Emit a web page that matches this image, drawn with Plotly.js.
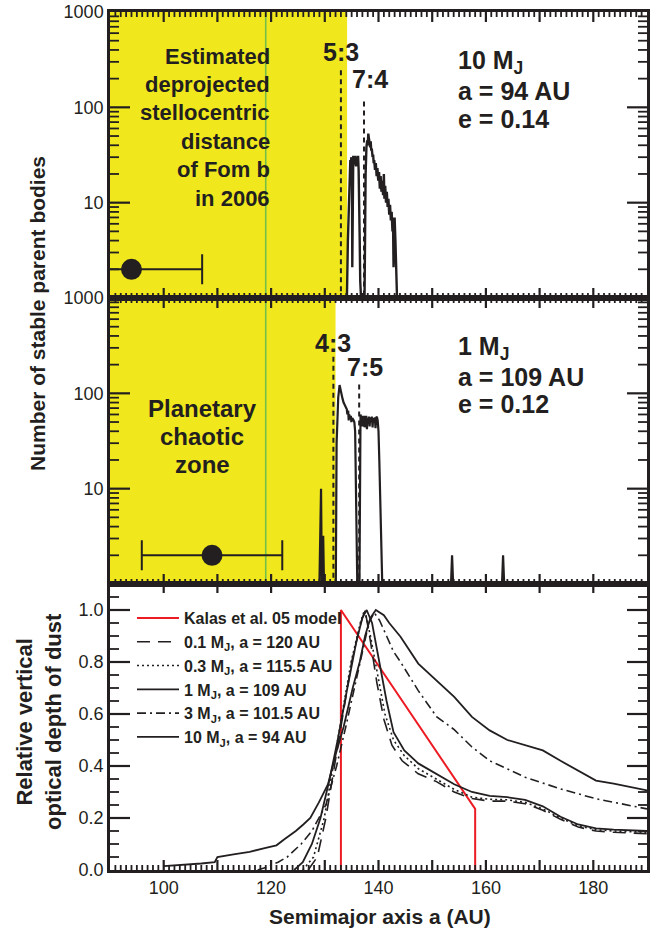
<!DOCTYPE html>
<html><head><meta charset="utf-8">
<script src="https://cdn.plot.ly/plotly-3.0.1.min.js"></script>
<style>html,body{margin:0;padding:0;background:#fff;} #chart{width:657px;height:932px;}</style>
</head><body><div id="chart"></div>
<script>
// ---------------- DATA ----------------
const topAU = [134.0,134.12,134.3,134.5,134.65,134.75,134.85,134.95,135.05,135.12,135.2,135.3,135.4,135.5,135.6,135.7,135.8,135.9,136.0,136.1,136.2,136.3,136.4,136.5,136.6,136.75,137.4,137.5,137.6,137.75,137.9,138.0,138.1,138.2,138.35,138.45,138.55,138.65,138.75,138.9,139.0,139.1,139.2,139.35,139.5,139.65,139.8,139.95,140.1,140.25,140.4,140.55,140.7,140.85,141.0,141.1,141.25,141.4,141.55,141.7,141.85,142.0,142.15,142.3,142.45,142.6,142.7,142.8,142.9,143.0,143.15,143.3,143.45];
const topN = [1,1,4,9,20,28,26,30,22,2.1,28,31,25,30,27,31,24,29,30,26,31,22,12,4,1.5,1,1,6,20,38,45,40,53,48,42,38,44,35,37,30,32,26,28,22,26,19,23,17,21,14,19,13,17,12,20,11,15,10,13,9,11,7.5,9.5,6.5,8,5,7,2.1,5.5,7,4,2,1];
const midAU = [129.0,129.3,129.45,129.7,129.85,132.05,132.2,132.5,132.75,132.9,133.1,133.3,133.5,133.7,133.9,134.1,134.2,134.35,134.45,134.55,134.7,134.85,134.95,135.1,135.3,135.5,135.65,135.8,135.95,136.05,136.45,136.55,136.65,136.8,136.9,137.0,137.1,137.2,137.3,137.4,137.5,137.6,137.7,137.85,137.95,138.1,138.2,138.35,138.45,138.6,138.75,138.9,139.0,139.15,139.3,139.45,139.55,139.7,139.85,140.0,140.15,140.3,140.45,140.6,140.7,153.5,153.7,153.9,163.0,163.2,163.4];
const midN = [1,10,1,3.2,1,1,30,90,122,110,95,88,80,76,70,68,60,66,52,60,55,58,50,55,53,50,40,8,1.5,1,1,40,60,55,58,45,57,52,58,44,56,50,58,42,55,48,57,45,56,50,57,44,55,50,56,43,55,57,52,40,20,9,8,2,1,1,2,1,1,2,1];

const resTopLabels = ['5:3','7:4'];
const resTopAU = [133.0, 137.3];
const resTopN = [245, 115];
const resMidLabels = ['4:3','7:5'];
const resMidAU = [131.6, 136.4];
const resMidN = [242, 124];

const planetTop = {a: 94, e: 0.14, n: 2};
const planetMid = {a: 109, e: 0.12, n: 2};

const zoneTop = [90, 134.15];
const zoneMid = [90, 132.0];
const fomB = 119.0;

const kalasAU = [133, 133, 158, 158];
const kalasT  = [0, 1.0, 0.235, 0];
const au01 = [126.9,128.6,130.2,131.8,133.4,135.0,136.7,137.5,138.5,139.7,141.0,142.5,144.4,147.4,150.8,154.1,157.4,160.7,164,167.3,170.6,173.9,177.2,180.5,183.8,190];
const t01  = [0,0.05,0.2,0.4,0.6,0.8,0.95,1.0,0.88,0.72,0.58,0.48,0.42,0.37,0.34,0.3,0.275,0.265,0.265,0.255,0.23,0.195,0.165,0.15,0.145,0.14];
const au03 = [125.9,127.9,129.9,131.6,133.2,134.9,136.6,137.4,138.5,139.8,141.2,142.8,144.8,147.4,150.8,154.1,157.4,160.7,164,167.3,170.6,173.9,177.2,180.5,183.8,190];
const t03  = [0,0.05,0.2,0.4,0.6,0.8,0.95,1.0,0.9,0.75,0.6,0.5,0.44,0.39,0.35,0.31,0.28,0.272,0.27,0.26,0.235,0.2,0.17,0.155,0.15,0.145];
const au1 = [124.3,125.9,127.6,129.2,130.9,132.4,134.2,135.9,137.0,137.8,138.8,140.2,141.5,142.8,144.8,147.4,150.8,154.1,157.4,160.7,164,167.3,170.6,173.9,177.2,180.5,183.8,190];
const t1  = [0,0.03,0.1,0.2,0.35,0.5,0.7,0.88,0.97,1.0,0.95,0.8,0.65,0.53,0.46,0.41,0.37,0.33,0.3,0.285,0.28,0.27,0.245,0.205,0.175,0.16,0.155,0.15];
const au3 = [117.5,119,121.3,123,125.6,127.6,130.2,132.2,133.9,135.5,137.2,138.2,139.2,140.2,141.5,142.8,144.1,147.4,150.8,154.1,157.4,160.7,167.3,173.9,180.5,185,190];
const t3  = [0,0.01,0.03,0.05,0.1,0.15,0.25,0.4,0.55,0.7,0.85,0.95,0.99,0.96,0.9,0.84,0.8,0.69,0.59,0.54,0.473,0.42,0.357,0.312,0.274,0.255,0.235];
const au10 = [100,104,107,109.5,110,113,116,119,121,122.6,124.6,126,127.3,128.9,130.6,132.1,133.5,135.2,136.5,137.5,138.5,139.5,140.3,141,142,144.1,147.4,150.8,154.1,157.4,160.7,164,167.3,170.6,173.9,177.2,180.5,183.8,187,190];
const t10  = [0.015,0.02,0.025,0.03,0.05,0.06,0.07,0.085,0.095,0.12,0.15,0.175,0.2,0.26,0.33,0.45,0.55,0.7,0.8,0.9,0.97,1.0,0.99,0.98,0.95,0.897,0.794,0.73,0.666,0.589,0.537,0.5,0.48,0.46,0.42,0.383,0.344,0.332,0.319,0.306];

const legendNames = ['Kalas et al. 05 model','0.1 M<sub>J</sub>, a = 120 AU','0.3 M<sub>J</sub>, a = 115.5 AU','1 M<sub>J</sub>, a = 109 AU','3 M<sub>J</sub>, a = 101.5 AU','10 M<sub>J</sub>, a = 94 AU'];

const xLabelVals = [100,120,140,160,180];
const xMajorTicks = [100,110,120,130,140,150,160,170,180];
const xMinorTicks = [];
for (let v = 91; v <= 189; v++) if (v % 10) xMinorTicks.push(v);
const nLabelVals = [10,100,1000];
const nMajorTicks = [10,100];
const nMinorTicks = [2,3,4,5,6,7,8,9,20,30,40,50,60,70,80,90,200,300,400,500,600,700,800,900];
const tLabelVals = [0,0.2,0.4,0.6,0.8,1.0];
const tMajorTicks = [0.2,0.4,0.6,0.8,1.0];
const tMinorTicks = [0.05,0.1,0.15,0.25,0.3,0.35,0.45,0.5,0.55,0.65,0.7,0.75,0.85,0.9,0.95,1.05];

// ---------------- LAYOUT HELPERS ----------------
const FONT = 'Liberation Sans, Arial, Helvetica, sans-serif';
const INK = '#231f20';
const W=657, H=932, L=110, R=10, T=12, B=62;
const PW = W-L-R, PH = H-T-B, PANEL_H = PH/3;
const X_RANGE = [90,190], LOG_RANGE = [0,3], T_RANGE = [0,1.1];
const px = x => (x-L)/PW;
const py = y => (H-B-y)/PH;
const xStep = (v, lenPx) => v + lenPx*(X_RANGE[1]-X_RANGE[0])/PW;
const logStep = (v, lenPx) => v * Math.pow(10, lenPx*(LOG_RANGE[1]-LOG_RANGE[0])/PANEL_H);
const linStep = (v, lenPx) => v + lenPx*(T_RANGE[1]-T_RANGE[0])/PANEL_H;

const traces = [];
function add(t){traces.push(t);}
add({x: topAU, y: topN, xaxis:'x3', yaxis:'y3', mode:'lines', line:{color:INK,width:2.4}, showlegend:false, hoverinfo:'skip'});
resTopAU.forEach((a,i)=>add({x:[a,a], y:[resTopN[i],1], xaxis:'x3', yaxis:'y3', mode:'lines', line:{color:INK,width:2,dash:'5px,4px'}, showlegend:false, hoverinfo:'skip'}));
add({x:[planetTop.a], y:[planetTop.n], xaxis:'x3', yaxis:'y3', mode:'markers', marker:{size:21,color:INK}, showlegend:false, hoverinfo:'skip',
  error_x:{type:'data', symmetric:false, array:[planetTop.a*planetTop.e], arrayminus:[planetTop.a*planetTop.e], color:INK, thickness:2, width:15}});
add({x: midAU, y: midN, xaxis:'x2', yaxis:'y2', mode:'lines', line:{color:INK,width:2.2}, showlegend:false, hoverinfo:'skip'});
resMidAU.forEach((a,i)=>add({x:[a,a], y:[resMidN[i],1], xaxis:'x2', yaxis:'y2', mode:'lines', line:{color:INK,width:2,dash:'5px,4px'}, showlegend:false, hoverinfo:'skip'}));
add({x:[planetMid.a], y:[planetMid.n], xaxis:'x2', yaxis:'y2', mode:'markers', marker:{size:21,color:INK}, showlegend:false, hoverinfo:'skip',
  error_x:{type:'data', symmetric:false, array:[planetMid.a*planetMid.e], arrayminus:[planetMid.a*planetMid.e], color:INK, thickness:2, width:15}});
add({x:kalasAU, y:kalasT, name:legendNames[0], mode:'lines', line:{color:'#ed1c24',width:2}});
add({x:au01, y:t01, name:legendNames[1], mode:'lines', line:{color:INK,width:1.6,dash:'13px,8px'}});
add({x:au03, y:t03, name:legendNames[2], mode:'lines', line:{color:INK,width:1.6,dash:'2px,3px'}});
add({x:au1, y:t1, name:legendNames[3], mode:'lines', line:{color:INK,width:1.8}});
add({x:au3, y:t3, name:legendNames[4], mode:'lines', line:{color:INK,width:1.6,dash:'9px,4px,2px,4px'}});
add({x:au10, y:t10, name:legendNames[5], mode:'lines', line:{color:INK,width:1.8}});

// ---- tick marks drawn as line segments through each panel's axes ----
function tickTrace(xa, ya, segs, w){
  const xs=[], ys=[];
  segs.forEach(s=>{xs.push(s[0],s[2],null); ys.push(s[1],s[3],null);});
  add({x:xs, y:ys, xaxis:xa, yaxis:ya, mode:'lines', connectgaps:false, line:{color:INK,width:w}, showlegend:false, hoverinfo:'skip', cliponaxis:false});
}
function panelTicks(xa, ya, yLo, yHi, yUp, yDown, yMajor, yMinor, onlyMajorTop){
  const minor=[], major=[];
  xMinorTicks.forEach(v=>{
    minor.push([v, yLo, v, yUp(yLo,5)]);
    if(!onlyMajorTop) minor.push([v, yHi, v, yDown(yHi,5)]);
  });
  xMajorTicks.forEach(v=>{
    major.push([v, yLo, v, yUp(yLo,10)]);
    major.push([v, yHi, v, yDown(yHi, onlyMajorTop?9:10)]);
  });
  yMinor.forEach(v=>{
    minor.push([X_RANGE[0], v, xStep(X_RANGE[0],9), v]);
    minor.push([X_RANGE[1], v, xStep(X_RANGE[1],-9), v]);
  });
  yMajor.forEach(v=>{
    major.push([X_RANGE[0], v, xStep(X_RANGE[0],20), v]);
    major.push([X_RANGE[1], v, xStep(X_RANGE[1],-20), v]);
  });
  tickTrace(xa, ya, minor, 1.8);
  tickTrace(xa, ya, major, 2.2);
}
const logUp = (v,p)=>logStep(v,p), logDown = (v,p)=>logStep(v,-p);
const linUp = (v,p)=>linStep(v,p), linDown = (v,p)=>linStep(v,-p);
panelTicks('x3','y3', Math.pow(10,LOG_RANGE[0]), Math.pow(10,LOG_RANGE[1]), logUp, logDown, nMajorTicks, nMinorTicks, false);
panelTicks('x2','y2', Math.pow(10,LOG_RANGE[0]), Math.pow(10,LOG_RANGE[1]), logUp, logDown, nMajorTicks, nMinorTicks, false);
panelTicks('x','y', T_RANGE[0], T_RANGE[1], linUp, linDown, tMajorTicks, tMinorTicks, true);

const tickFont = {family:FONT, size:18, color:INK};
function frameX(anchor, labels){
  return {range:X_RANGE.slice(), anchor:anchor, showline:true, linewidth:2.5, linecolor:INK, mirror:true, showgrid:false, zeroline:false,
    ticks:'', tickmode:'array', tickvals:xLabelVals.slice(), showticklabels:!!labels, tickfont:tickFont};
}
function frameYLog(domain, anchor){
  return {type:'log', range:LOG_RANGE.slice(), domain:domain, anchor:anchor, showline:true, linewidth:2.5, linecolor:INK, mirror:true, showgrid:false, zeroline:false,
    ticks:'', tickmode:'array', tickvals:nLabelVals.slice(), ticktext:nLabelVals.map(String), tickfont:tickFont};
}

const shapes = [
  {type:'rect', xref:'x3', yref:'y3 domain', x0:zoneTop[0], x1:zoneTop[1], y0:0, y1:1, fillcolor:'#f0e81c', line:{width:0}, layer:'below'},
  {type:'rect', xref:'x2', yref:'y2 domain', x0:zoneMid[0], x1:zoneMid[1], y0:0, y1:1, fillcolor:'#f0e81c', line:{width:0}, layer:'below'},
  {type:'line', xref:'x3', yref:'paper', x0:fomB, x1:fomB, y0:1/3, y1:1, line:{color:'#72bf4a', width:1.6}, layer:'below'}
];

const ann = [];
function txt(text, x, y, size, xanchor, opts){ann.push(Object.assign({text:text, xref:'paper', yref:'paper', x:px(x), y:py(y), xanchor:xanchor||'center', yanchor:'middle', showarrow:false,
  font:{family:FONT, size:size, color:INK, weight:'bold'}}, opts||{}));}
resTopLabels.forEach((s,i)=>txt(s, [341,370][i], [52,79][i], 25));
resMidLabels.forEach((s,i)=>txt(s, [333,365][i], [343,367][i], 25));
txt('10 M<sub>J</sub>', 456, 62, 25, 'left');
txt('a = 94 AU', 456, 91, 25, 'left');
txt('e = 0.14', 456, 119, 25, 'left');
txt('1 M<sub>J</sub>', 456, 348, 25, 'left');
txt('a = 109 AU', 456, 377, 25, 'left');
txt('e = 0.12', 456, 404, 25, 'left');
['Estimated','deprojected','stellocentric','distance','of Fom b','in 2006'].forEach((s,i)=>txt(s, 272, 56+28.5*i, 22, 'right'));
['Planetary','chaotic','zone'].forEach((s,i)=>txt(s, 202, 408+28.3*i, 24, 'center'));
txt('Number of stable parent bodies', 38, 314, 21, 'center', {textangle:-90});
txt('Relative vertical<br>optical depth of dust', 39, 722, 22, 'center', {textangle:-90});
txt('Semimajor axis a (AU)', 380, 916, 21, 'center');

const layout = {
  width:W, height:H, margin:{l:L, r:R, t:T, b:B}, paper_bgcolor:'#fff', plot_bgcolor:'#fff',
  font:{family:FONT, color:INK},
  xaxis: frameX('y', true),
  xaxis2: frameX('y2', false),
  xaxis3: frameX('y3', false),
  yaxis: {domain:[0,1/3], anchor:'x', range:T_RANGE.slice(), showline:true, linewidth:2.5, linecolor:INK, mirror:true, ticks:'',
    showgrid:false, zeroline:false, tickmode:'array', tickvals:tLabelVals.slice(), tickformat:'.1f', tickfont:tickFont},
  yaxis2: frameYLog([1/3,2/3], 'x2'),
  yaxis3: frameYLog([2/3,1], 'x3'),
  legend:{x:px(132), y:py(601), xanchor:'left', yanchor:'top', bgcolor:'rgba(0,0,0,0)', font:{family:FONT, size:16, color:INK, weight:'bold'}, itemwidth:42},
  shapes: shapes,
  annotations: ann
};
Plotly.newPlot('chart', traces, layout, {displayModeBar:false});
</script>
</body></html>
